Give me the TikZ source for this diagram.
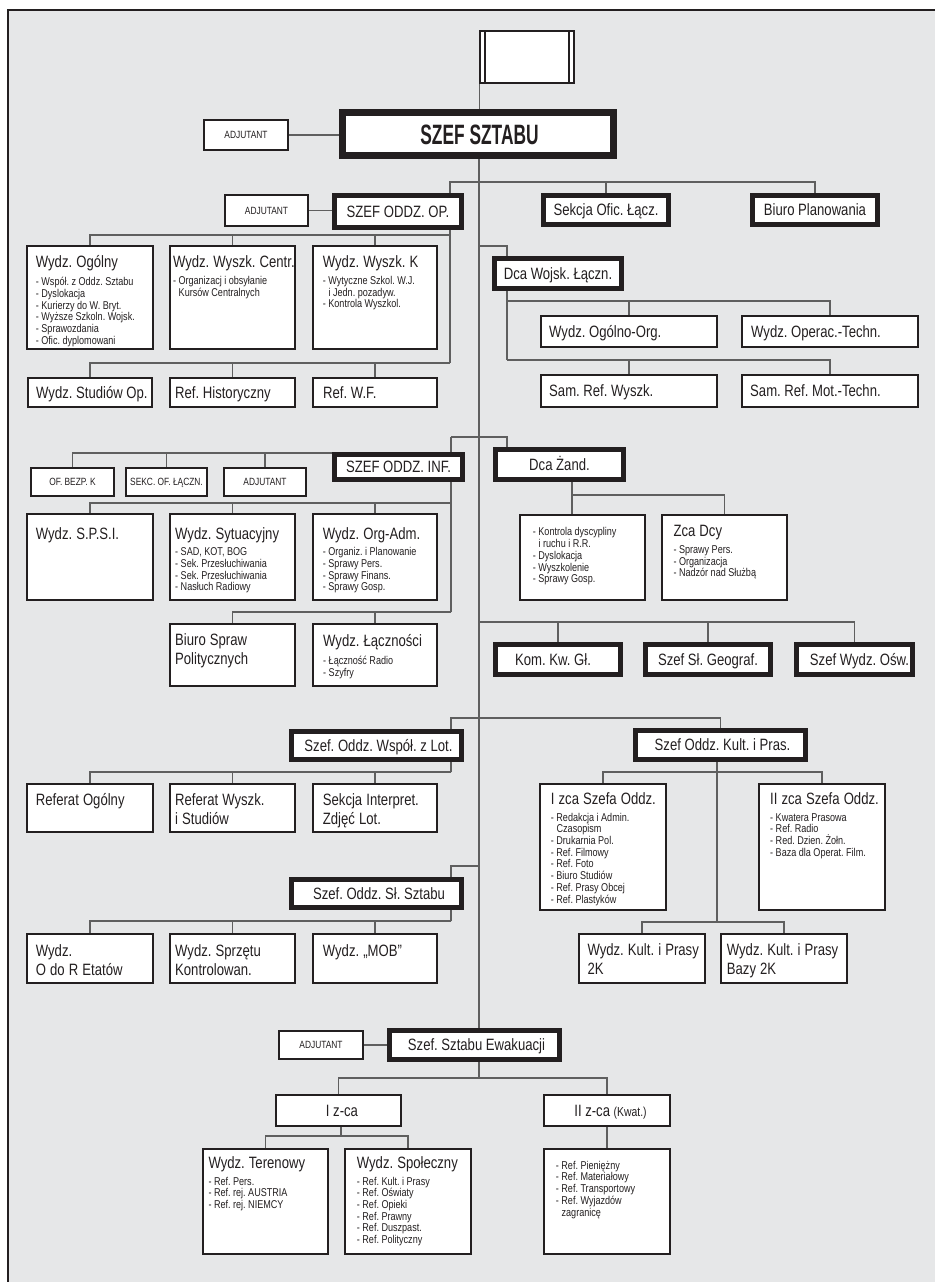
\documentclass[tikz,border=0pt]{standalone}
\usepackage{fontspec}
\setmainfont{Liberation Sans}[FakeStretch=0.8]
\newfontfamily\bnarrow{Liberation Sans}[FakeStretch=0.62]
\newfontfamily\itf{Liberation Sans}[FakeStretch=0.8]
\usetikzlibrary{fit,backgrounds}
\setlength{\lineskiplimit}{-100pt}
\frenchspacing
\definecolor{bg}{RGB}{230,231,232}
\definecolor{boxc}{RGB}{35,31,32}
\definecolor{linec}{RGB}{95,95,95}
\newcommand{\Tt}{\noindent\frenchspacing\fontsize{12.3}{14.25}\selectfont\spaceskip=0.25em plus 0.05em\relax\xspaceskip=\spaceskip\rule{0pt}{12.2pt}}
\newcommand{\Ii}{\par\vspace{3.6pt}\noindent\itf\fontsize{8.5}{8.8}\selectfont\spaceskip=0.22em plus 0.05em\relax\xspaceskip=\spaceskip}
\newcommand{\Is}{\noindent\frenchspacing\itf\fontsize{8.5}{8.8}\selectfont\spaceskip=0.22em plus 0.05em\relax\xspaceskip=\spaceskip\rule{0pt}{7.8pt}}
\newcommand{\ind}{\hspace*{4.3pt}}
\tikzset{
  rbox/.style={draw=boxc, fill=white, line width=1.6pt, inner sep=0pt, rectangle},
  tbox/.style={draw=boxc, fill=white, line width=4pt, inner sep=0pt, rectangle},
  conn/.style={draw=linec, line width=0.9pt},
  ttl/.style={font={\fontsize{12.3}{14.25}\selectfont}, inner sep=0pt, text=boxc, yshift=-4.4pt},
  sml/.style={font={\fontsize{7.85}{9}\selectfont}, inner sep=0pt, text=boxc, yshift=-2.81pt},
  mtx/.style={anchor=north west, inner sep=0pt, text width=120pt, align=left, text=boxc},
}
\newcommand{\rb}[5]{\node[rbox, fit={({#2+1},{#3+1}) ({#4-1},{#5-1})}] (#1) {};}
\newcommand{\tb}[5]{\node[tbox, fit={({#2+2.7},{#3+2.7}) ({#4-2.7},{#5-2.7})}] (#1) {};}
\newcommand{\ct}[4][0]{\node[#3, anchor=base] (#2t) at ([shift={(#1,0)}]#2.center) {#4};}
\newcommand{\lt}[4]{\node[#3, anchor=base west] (#2t) at ([shift={(#1,0)}]#2.west) {#4};}
\newcommand{\mt}[4]{\node[mtx] (#1t) at ([shift={(#2,#3)}]#1.north west) {#4\par};}
\begin{document}
\begin{tikzpicture}[x=0.75pt,y=-0.75pt]
\useasboundingbox (0,0) rectangle (935,1282);
% flag
\node[draw=boxc, fill=white, line width=0.9pt, inner sep=0pt, fit={(480,31) (574,83)}] (flag) {};
\draw[boxc, line width=0.9pt] (485,31) -- (485,83) (569,31) -- (569,83);
% top
\rb{adja}{203}{119}{289}{151}
\node[draw=boxc, fill=white, line width=5pt, inner sep=0pt, fit={(342.3,112.3) (613.7,155.7)}] (szef) {};
\rb{adjb}{224}{194}{309}{227}
\tb{oddzop}{332}{193}{464}{230}
\tb{sekc}{541}{193}{671}{227}
\tb{biuro}{750}{193}{880}{227}
\rb{og}{26}{245}{154}{350}
\rb{wc}{169}{245}{296}{350}
\rb{wk}{312}{245}{438}{350}
\rb{stud}{27}{377}{153}{408}
\rb{hist}{169}{377}{296}{408}
\rb{wf}{312}{377}{438}{408}
\tb{dcaw}{492}{256}{624}{291}
\rb{ogorg}{540}{315}{718}{348}
\rb{optech}{741}{315}{919}{348}
\rb{samw}{540}{374}{718}{408}
\rb{samm}{741}{374}{919}{408}
\tb{inf}{332}{452}{465}{482}
\rb{ofb}{30}{467}{115}{497}
\rb{sekl}{125}{467}{208}{497}
\rb{adjc}{223}{467}{307}{497}
\rb{sps}{26}{513}{154}{601}
\rb{syt}{169}{513}{296}{601}
\rb{orga}{312}{513}{438}{601}
\rb{bsp}{169}{623}{296}{687}
\rb{lacz}{312}{623}{438}{687}
\tb{dcaz}{493}{447}{626}{482}
\rb{kontr}{519}{514}{646}{601}
\rb{zca}{661}{514}{788}{601}
\tb{kom}{493}{642}{623}{677}
\tb{geo}{643}{642}{773}{677}
\tb{osw}{794}{642}{915}{677}
\tb{wspol}{289}{729}{464}{762}
\rb{refog}{26}{783}{154}{833}
\rb{refw}{169}{783}{296}{833}
\rb{sekint}{312}{783}{438}{833}
\tb{sl}{289}{877}{464}{910}
\rb{etat}{26}{933}{154}{984}
\rb{sprz}{169}{933}{296}{984}
\rb{mob}{312}{933}{438}{984}
\tb{kult}{633}{728}{808}{762}
\rb{izca}{539}{783}{667}{911}
\rb{iizca}{758}{783}{886}{911}
\rb{wk2}{578}{933}{706}{984}
\rb{wkb}{720}{933}{848}{984}
\rb{adjd}{278}{1030}{364}{1060}
\tb{ewak}{387}{1028}{562}{1062}
\rb{iz}{275}{1094}{402}{1127}
\rb{iiz}{543}{1094}{671}{1127}
\rb{ter}{202}{1148}{329}{1255}
\rb{spo}{344}{1148}{472}{1255}
\rb{ref}{543}{1148}{671}{1255}
% texts
\ct{adja}{sml}{ADJUTANT}
\node[font={\bnarrow\fontsize{21}{24}\selectfont\bfseries}, text=boxc, inner sep=0pt, anchor=base, yshift=-7.5pt] (szeft) at ([shift={(1.5,0)}]szef.center) {SZEF SZTABU};
\ct{adjb}{sml}{ADJUTANT}
\ct{oddzop}{ttl}{SZEF ODDZ. OP.}
\ct{sekc}{ttl}{Sekcja Ofic. Łącz.}
\ct{biuro}{ttl}{Biuro Planowania}
\mt{og}{9.7}{6.4}{\Tt Wydz. Ogólny\Ii - Współ. z Oddz. Sztabu\\- Dyslokacja\\- Kurierzy do W. Bryt.\\- Wyższe Szkoln. Wojsk.\\- Sprawozdania\\- Ofic. dyplomowani}
\mt{wc}{3.8}{6.4}{\Tt Wydz. Wyszk. Centr.\Ii - Organizacj i obsyłanie\\\ind Kursów Centralnych}
\mt{wk}{10.7}{6.4}{\Tt Wydz. Wyszk. K\Ii - Wytyczne Szkol. W.J.\\\ind i Jedn. pozadyw.\\- Kontrola Wyszkol.}
\lt{9}{stud}{ttl}{Wydz. Studiów Op.}
\lt{6}{hist}{ttl}{Ref. Historyczny}
\lt{11}{wf}{ttl}{Ref. W.F.}
\ct{dcaw}{ttl}{Dca Wojsk. Łączn.}
\lt{9}{ogorg}{ttl}{Wydz. Ogólno-Org.}
\lt{10}{optech}{ttl}{Wydz. Operac.-Techn.}
\lt{9}{samw}{ttl}{Sam. Ref. Wyszk.}
\lt{9}{samm}{ttl}{Sam. Ref. Mot.-Techn.}
\ct{inf}{ttl}{SZEF ODDZ. INF.}
\ct{ofb}{sml}{OF. BEZP. K}
\ct{sekl}{sml}{SEKC. OF. ŁĄCZN.}
\ct{adjc}{sml}{ADJUTANT}
\mt{sps}{9.7}{9.7}{\Tt Wydz. S.P.S.I.}
\mt{syt}{6}{9.7}{\Tt Wydz. Sytuacyjny\Ii - SAD, KOT, BOG\\- Sek. Przesłuchiwania\\- Sek. Przesłuchiwania\\- Nasłuch Radiowy}
\mt{orga}{10.7}{9.7}{\Tt Wydz. Org-Adm.\Ii - Organiz. i Planowanie\\- Sprawy Pers.\\- Sprawy Finans.\\- Sprawy Gosp.}
\mt{bsp}{6}{6.4}{\Tt Biuro Spraw\\Politycznych}
\mt{lacz}{11}{7.4}{\Tt Wydz. Łączności\Ii - Łączność Radio\\- Szyfry}
\ct{dcaz}{ttl}{Dca Żand.}
\mt{kontr}{13.7}{11.2}{\Is - Kontrola dyscypliny\\\ind i ruchu i R.R.\\- Dyslokacja\\- Wyszkolenie\\- Sprawy Gosp.}
\mt{zca}{12.3}{6.4}{\Tt Zca Dcy\Ii - Sprawy Pers.\\- Organizacja\\- Nadzór nad Służbą}
\ct[-5]{kom}{ttl}{Kom. Kw. Gł.}
\ct{geo}{ttl}{Szef Sł. Geograf.}
\ct[5]{osw}{ttl}{Szef Wydz. Ośw.}
\ct[2]{wspol}{ttl}{Szef. Oddz. Współ. z Lot.}
\mt{refog}{9.7}{5.7}{\Tt Referat Ogólny}
\mt{refw}{6}{5.7}{\Tt Referat Wyszk.\\i Studiów}
\mt{sekint}{10.7}{5.7}{\Tt Sekcja Interpret.\\Zdjęć Lot.}
\ct[2.5]{sl}{ttl}{Szef. Oddz. Sł. Sztabu}
\mt{etat}{9.7}{6.7}{\Tt Wydz.\\O do R Etatów}
\mt{sprz}{6}{6.7}{\Tt Wydz. Sprzętu\\Kontrolowan.}
\mt{mob}{10.7}{6.7}{\Tt Wydz. „MOB”}
\ct[2]{kult}{ttl}{Szef Oddz. Kult. i Pras.}
\mt{izca}{11.7}{5}{\Tt I zca Szefa Oddz.\Ii - Redakcja i Admin.\\\ind Czasopism\\- Drukarnia Pol.\\- Ref. Filmowy\\- Ref. Foto\\- Biuro Studiów\\- Ref. Prasy Obcej\\- Ref. Plastyków}
\mt{iizca}{12}{5}{\Tt II zca Szefa Oddz.\Ii - Kwatera Prasowa\\- Ref. Radio\\- Red. Dzien. Żołn.\\- Baza dla Operat. Film.}
\mt{wk2}{9.3}{5.7}{\Tt Wydz. Kult. i Prasy\\2K}
\mt{wkb}{6.7}{5.7}{\Tt Wydz. Kult. i Prasy\\Bazy 2K}
\ct{adjd}{sml}{ADJUTANT}
\ct[2]{ewak}{ttl}{Szef. Sztabu Ewakuacji}
\ct[3.5]{iz}{ttl}{I z-ca}
\ct[3.5]{iiz}{ttl}{II z-ca {\fontsize{9.75}{11}\selectfont(Kwat.)}}
\mt{ter}{6.3}{4}{\Tt Wydz. Terenowy\Ii - Ref. Pers.\\- Ref. rej. AUSTRIA\\- Ref. rej. NIEMCY}
\mt{spo}{12.7}{4}{\Tt Wydz. Społeczny\Ii - Ref. Kult. i Prasy\\- Ref. Oświaty\\- Ref. Opieki\\- Ref. Prawny\\- Ref. Duszpast.\\- Ref. Polityczny}
\mt{ref}{12.7}{10.6}{\Is - Ref. Pieniężny\\- Ref. Materiałowy\\- Ref. Transportowy\\- Ref. Wyjazdów\\\ind zagranicę}
% junctions
\coordinate (sp) at (479,0);
\coordinate (bA) at (450,182);
\coordinate (a1) at (450,235);
\coordinate (a2) at (450,363);
\coordinate (jW) at (507,246);
\coordinate (w1) at (507,301);
\coordinate (w2) at (507,360);
\coordinate (jI) at (451,437);
\coordinate (jZ) at (507,437);
\coordinate (i0) at (0,453);
\coordinate (i2) at (451,503);
\coordinate (i3) at (451,612);
\coordinate (z1) at (572,495);
\coordinate (k1) at (479,622);
\coordinate (l0) at (451,718);
\coordinate (l1) at (451,772);
\coordinate (s0) at (451,866);
\coordinate (s1) at (451,921);
\coordinate (c1) at (717,772);
\coordinate (c2) at (717,922);
\coordinate (e1) at (479,1078);
\coordinate (e2) at (341,1136);
\begin{pgfonlayer}{background}
\fill[bg] (8,10) rectangle (935,1282);
\draw[boxc, line width=1.5pt] (8,1282) -- (8,10) -- (935,10);
% connectors
\draw[conn] (flag.south west) -- (flag.south west |- szef.north);
\draw[conn] (adja.east) -- (adja.east -| szef.west);
\draw[conn] (szef.south -| sp) -- (ewak.north -| sp);
\draw[conn] (bA |- oddzop.north) -- (bA) -| (biuro.north);
\draw[conn] (bA) -| (sekc.north);
\draw[conn] (adjb.east) -- (adjb.east -| oddzop.west);
\draw[conn] (bA |- oddzop.south) -- (a2);
\draw[conn] (og.north) |- (a1);
\draw[conn] (wc.north) |- (a1);
\draw[conn] (wk.north) |- (a1);
\draw[conn] (stud.north) |- (a2);
\draw[conn] (hist.north) |- (a2);
\draw[conn] (wf.north) |- (a2);
\draw[conn] (jW -| sp) -- (jW) -- (jW |- dcaw.north);
\draw[conn] (jW |- dcaw.south) -- (w2);
\draw[conn] (w1) -| (ogorg.north);
\draw[conn] (w1) -| (optech.north);
\draw[conn] (w2) -| (samw.north);
\draw[conn] (w2) -| (samm.north);
\draw[conn] (jI) -- (jZ) -- (jZ |- dcaz.north);
\draw[conn] (jI) -- (jI |- inf.north);
\draw[conn] (jI |- inf.south) -- (i3);
\draw[conn] (inf.west |- i0) -| (ofb.north);
\draw[conn] (inf.west |- i0) -| (sekl.north);
\draw[conn] (inf.west |- i0) -| (adjc.north);
\draw[conn] (i2) -| (sps.north);
\draw[conn] (i2) -| (syt.north);
\draw[conn] (i2) -| (orga.north);
\draw[conn] (i3) -| (bsp.north);
\draw[conn] (i3) -| (lacz.north);
\draw[conn] (z1 |- dcaz.south) -- (z1) -- (z1 |- kontr.north);
\draw[conn] (z1) -| (zca.north);
\draw[conn] (k1) -| (kom.north);
\draw[conn] (k1) -| (geo.north);
\draw[conn] (k1) -| (osw.north);
\draw[conn] (l0 |- wspol.north) -- (l0) -| (kult.north);
\draw[conn] (l0 |- wspol.south) -- (l1);
\draw[conn] (l1) -| (refog.north);
\draw[conn] (l1) -| (refw.north);
\draw[conn] (l1) -| (sekint.north);
\draw[conn] (s0 -| sp) -- (s0) -- (s0 |- sl.north);
\draw[conn] (s0 |- sl.south) -- (s1);
\draw[conn] (s1) -| (etat.north);
\draw[conn] (s1) -| (sprz.north);
\draw[conn] (s1) -| (mob.north);
\draw[conn] (c1 |- kult.south) -- (c2);
\draw[conn] (c1) -| (izca.north);
\draw[conn] (c1) -| (iizca.north);
\draw[conn] (c2) -| (wk2.north);
\draw[conn] (c2) -| (wkb.north);
\draw[conn] (adjd.east) -- (adjd.east -| ewak.west);
\draw[conn] (e1 |- ewak.south) -- (e1) -| (iz.north);
\draw[conn] (e1) -| (iiz.north);
\draw[conn] (e2 |- iz.south) -- (e2) -| (ter.north);
\draw[conn] (e2) -| (spo.north);
\draw[conn] (iiz.south) -- (ref.north);
\end{pgfonlayer}
\end{tikzpicture}
\end{document}
